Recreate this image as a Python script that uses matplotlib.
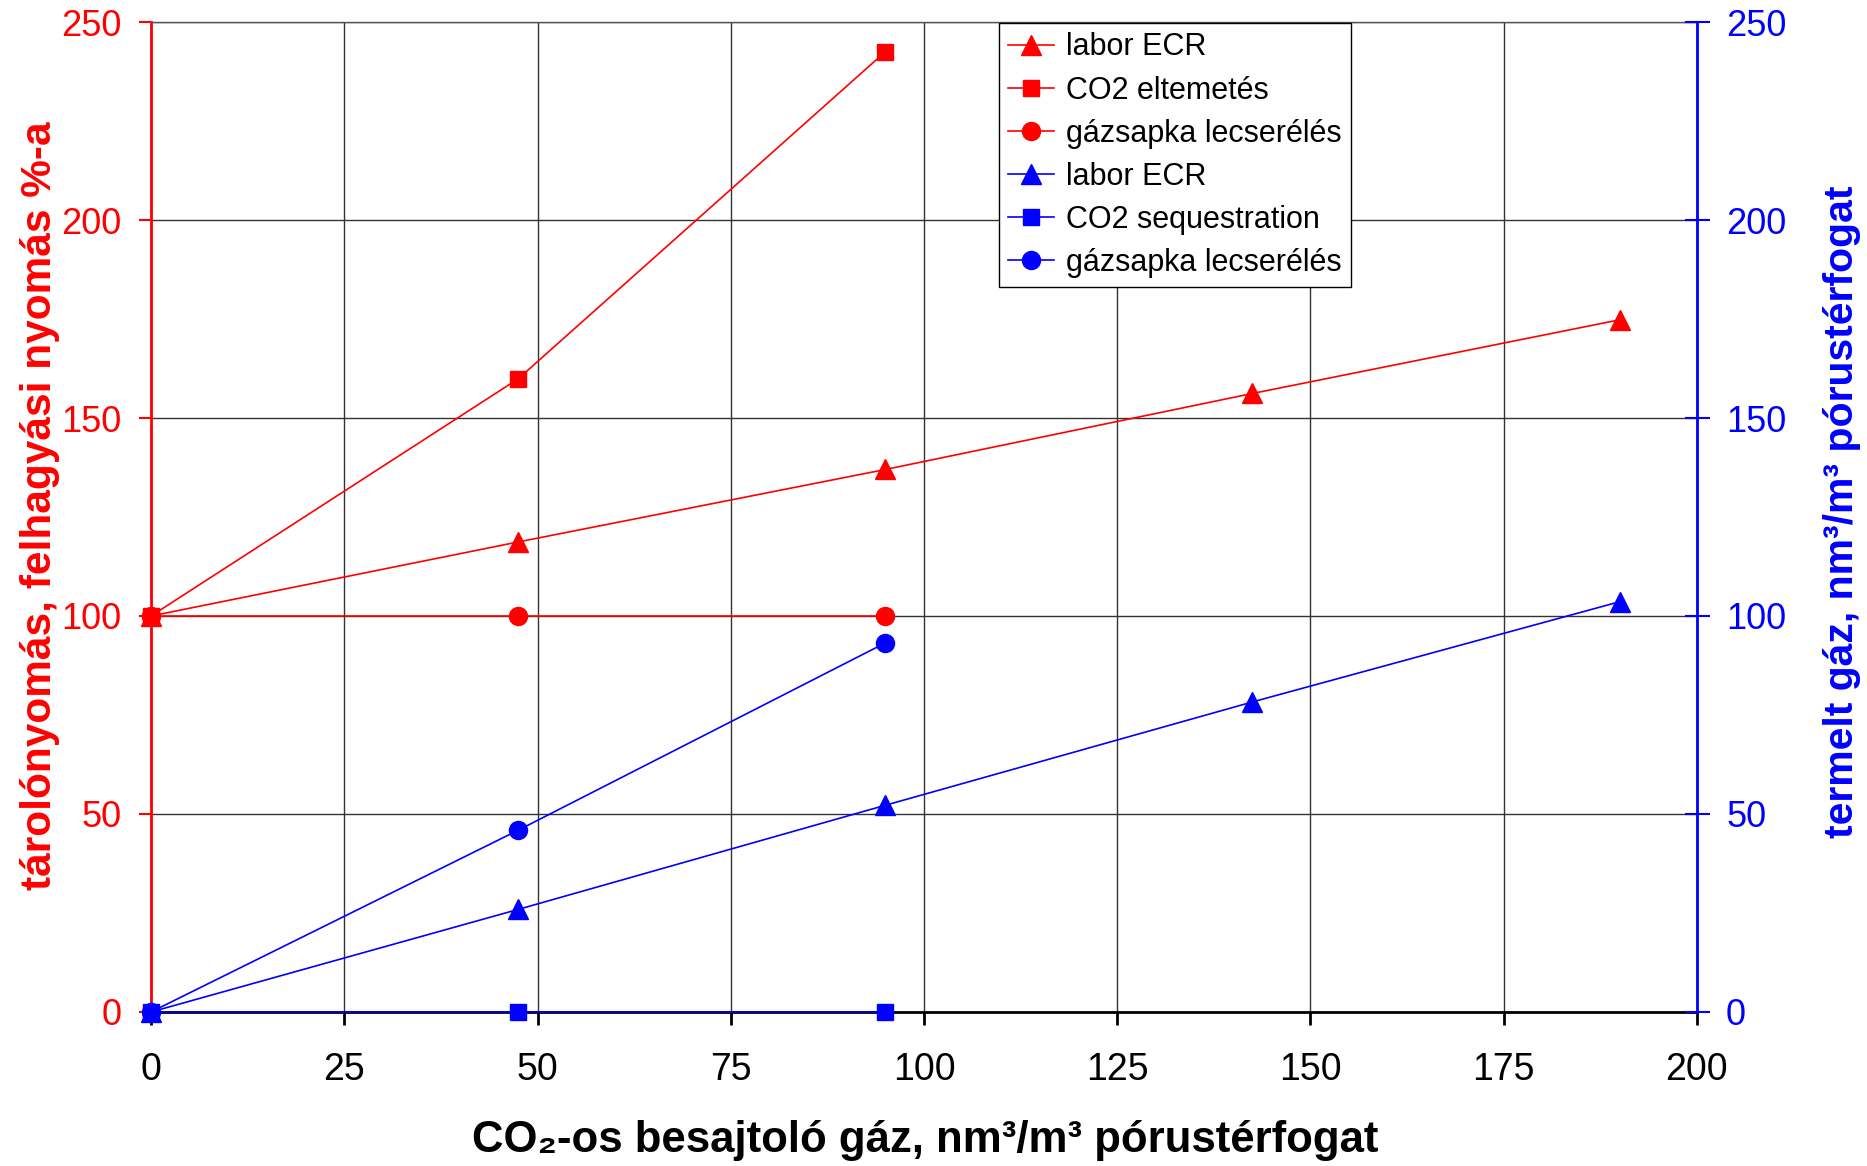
import matplotlib
matplotlib.use("Agg")
import matplotlib.pyplot as plt

plt.rcParams['font.family'] = ['Liberation Sans', 'DejaVu Sans']

# adatok
x_ecr = [0, 47.5, 95, 142.5, 190]
x_short = [0, 47.5, 95]

red_ecr = [100, 118.7, 137, 156.2, 174.8]      # tárolónyomás, labor ECR
red_co2 = [100, 159.9, 242.5]                   # CO2 eltemetés
red_cap = [100, 100, 100]                       # gázsapka lecserélés

blue_ecr = [0, 25.9, 52.2, 78.3, 103.6]         # termelt gáz, labor ECR
blue_co2 = [0, 0, 0]                            # CO2 sequestration
blue_cap = [0, 45.9, 93.2]                      # gázsapka lecserélés

xticks = [0, 25, 50, 75, 100, 125, 150, 175, 200]
yticks = [0, 50, 100, 150, 200, 250]

RED = '#ff0000'
BLUE = '#0000ff'

fig = plt.figure(figsize=(18.67, 11.66), dpi=100)
ax = fig.add_axes([0.0809, 0.1321, 0.828, 0.849])
ax2 = ax.twinx()

lw = 1.2
h1, = ax.plot(x_ecr, red_ecr, color=RED, lw=lw, marker='^', ms=14, label='labor ECR', clip_on=False)
h2, = ax.plot(x_short, red_co2, color=RED, lw=lw, marker='s', ms=12, label='CO2 eltemetés', clip_on=False)
h3, = ax.plot(x_short, red_cap, color=RED, lw=lw, marker='o', ms=13, label='gázsapka lecserélés', clip_on=False)

h4, = ax2.plot(x_ecr, blue_ecr, color=BLUE, lw=lw, marker='^', ms=14, label='labor ECR', clip_on=False)
h5, = ax2.plot(x_short, blue_co2, color=BLUE, lw=lw, marker='s', ms=12, label='CO2 sequestration', clip_on=False)
h6, = ax2.plot(x_short, blue_cap, color=BLUE, lw=lw, marker='o', ms=13, label='gázsapka lecserélés', clip_on=False)

for a in (ax, ax2):
    a.set_xlim(0, 200)
    a.set_ylim(0, 250)
    a.set_yticks(yticks)

ax.set_xticks(xticks)
ax.grid(True, color='#333333', lw=1.0)
ax.set_axisbelow(True)

ax.spines['left'].set_color(RED)
ax.spines['left'].set_linewidth(2)
ax.spines['bottom'].set_color('black')
ax.spines['bottom'].set_linewidth(2)
ax.spines['top'].set_color('#555555')
ax.spines['top'].set_linewidth(1)
ax.spines['right'].set_visible(False)
for s in ('left', 'bottom', 'top'):
    ax2.spines[s].set_visible(False)
ax2.spines['right'].set_color(BLUE)
ax2.spines['right'].set_linewidth(2)

ax.tick_params(axis='x', direction='out', length=9, width=2, colors='black',
               labelsize=27, pad=20)
ax.tick_params(axis='y', direction='out', length=9, width=1.5, color=RED,
               labelcolor=RED, labelsize=26, pad=12)
ax2.tick_params(axis='y', direction='inout', length=18, width=1.5, color=BLUE,
                labelcolor=BLUE, labelsize=26, pad=12)

fig.text(0.0215, 0.566, 'tárolónyomás, felhagyási nyomás %-a', rotation=90,
         color=RED, fontsize=30.5, fontweight='bold', ha='center', va='center')
fig.text(0.9866, 0.561, 'termelt gáz, nm³/m³ pórustérfogat', rotation=90,
         color=BLUE, fontsize=29.5, fontweight='bold', ha='center', va='center')
fig.text(0.4955, 0.022, 'CO₂-os besajtoló gáz, nm³/m³ pórustérfogat',
         color='black', fontsize=31.5, fontweight='bold', ha='center', va='center')

leg = ax2.legend(handles=[h1, h2, h3, h4, h5, h6], loc='upper left',
                 bbox_to_anchor=(0.535, 0.980), bbox_transform=fig.transFigure,
                 fontsize=22, frameon=True, fancybox=False, framealpha=1,
                 edgecolor='black', handlelength=1.5, labelspacing=0.43,
                 borderpad=0.3, handletextpad=0.4, borderaxespad=0)
leg.get_frame().set_linewidth(1.0)
leg.set_zorder(10)

fig.savefig('out.png', dpi=100)
